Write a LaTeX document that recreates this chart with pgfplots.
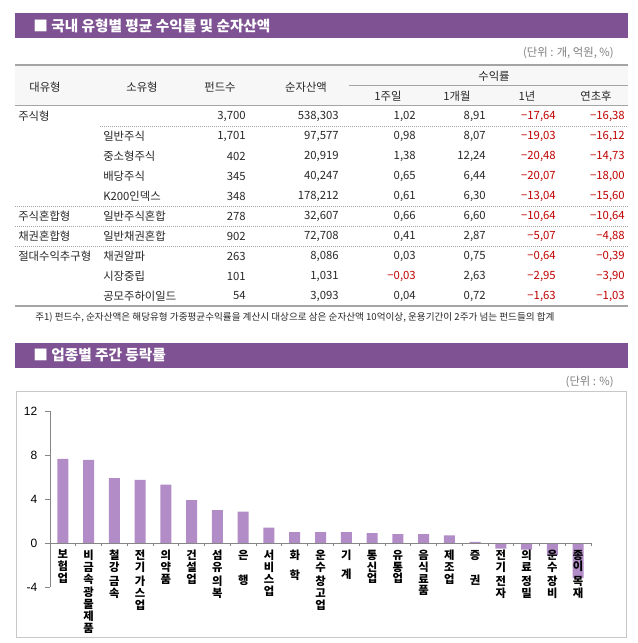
\documentclass[border=0pt]{standalone}
\usepackage{pgfplots}
\pgfplotsset{compat=1.18}
\usepackage{fontspec}
\setmainfont{Noto Sans CJK KR}
\newfontfamily\arial{Liberation Sans}
\definecolor{banner}{RGB}{127,82,147}
\definecolor{barc}{RGB}{177,140,199}
\definecolor{numred}{RGB}{192,0,0}
\definecolor{linec}{RGB}{165,165,165}
\definecolor{tcol}{RGB}{40,40,40}
\definecolor{axgray}{RGB}{134,134,134}
\definecolor{boxc}{RGB}{200,200,200}
\newcommand\tf{\fontsize{8.5}{10}\selectfont}
\newcommand\negv[1]{\textcolor{numred}{−#1}}
\newcommand\row[9]{%
 \node[L] at (18,#1) {#2};
 \node[L] at (103,#1) {#3};
 \node[R] at (246,#1) {#4};
 \node[R] at (339,#1) {#5};
 \node[R] at (416,#1) {#6};
 \node[R] at (486,#1) {#7};
 \node[R] at (556,#1) {#8};
 \node[R] at (625,#1) {#9};}
\begin{document}
\begin{tikzpicture}
\useasboundingbox (0,0) rectangle (477.75pt,-482.25pt);
\begin{scope}[x=0.75pt,y=-0.75pt]
\tikzset{L/.style={anchor=west,font=\tf,text=tcol,inner sep=0pt},
         R/.style={anchor=east,font=\tf,text=tcol,inner sep=0pt},
         C/.style={anchor=center,font=\tf,text=tcol,inner sep=0pt}}
\fill[white] (0,0) rectangle (637,643);
% banner 1
\fill[banner] (15,13) rectangle (628,38);
\node[anchor=west,text=white,inner sep=0pt,font=\fontsize{11}{13}\selectfont\bfseries] at (33,25.5) {■ 국내 유형별 평균 수익률 및 순자산액};
\node[anchor=east,text=gray,inner sep=0pt,font=\fontsize{8.5}{10}\selectfont] at (614,53) {(단위 : 개, 억원, \%)};
% table header
\fill[gray!6] (15,65) rectangle (628,105.5);
\draw[linec,line width=0.9pt] (15,65)--(628,65);
\draw[linec,line width=0.6pt] (349,85)--(628,85);
\draw[linec,line width=0.9pt] (15,105.5)--(628,105.5);
\node[C] at (45,87) {대유형};
\node[C] at (142,87) {소유형};
\node[C] at (220,87) {펀드수};
\node[C] at (306,87) {순자산액};
\node[C] at (494,76) {수익률};
\node[C] at (388,96) {1주일};
\node[C] at (457,96) {1개월};
\node[C] at (527,96) {1년};
\node[C] at (596,96) {연초후};
% rows
\row{116}{주식형}{}{3,700}{538,303}{1,02}{8,91}{\negv{17,64}}{\negv{16,38}}
\row{136}{}{일반주식}{1,701}{97,577}{0,98}{8,07}{\negv{19,03}}{\negv{16,12}}
\row{156}{}{중소형주식}{402}{20,919}{1,38}{12,24}{\negv{20,48}}{\negv{14,73}}
\row{176}{}{배당주식}{345}{40,247}{0,65}{6,44}{\negv{20,07}}{\negv{18,00}}
\row{196}{}{K200인덱스}{348}{178,212}{0,61}{6,30}{\negv{13,04}}{\negv{15,60}}
\row{216}{주식혼합형}{일반주식혼합}{278}{32,607}{0,66}{6,60}{\negv{10,64}}{\negv{10,64}}
\row{236}{채권혼합형}{일반채권혼합}{902}{72,708}{0,41}{2,87}{\negv{5,07}}{\negv{4,88}}
\row{256}{절대수익추구형}{채권알파}{263}{8,086}{0,03}{0,75}{\negv{0,64}}{\negv{0,39}}
\row{276}{}{시장중립}{101}{1,031}{\negv{0,03}}{2,63}{\negv{2,95}}{\negv{3,90}}
\row{296}{}{공모주하이일드}{54}{3,093}{0,04}{0,72}{\negv{1,63}}{\negv{1,03}}
\draw[linec,line width=0.6pt,dash pattern=on 0.75pt off 0.75pt] (100,126)--(628,126);
\draw[linec,line width=0.6pt,dash pattern=on 0.75pt off 0.75pt] (15,206)--(628,206);
\draw[linec,line width=0.6pt,dash pattern=on 0.75pt off 0.75pt] (15,226)--(628,226);
\draw[linec,line width=0.6pt,dash pattern=on 0.75pt off 0.75pt] (15,246)--(628,246);
\draw[linec,line width=0.9pt] (15,306)--(628,306);
\node[anchor=west,text=tcol,inner sep=0pt,font=\fontsize{7.2}{8}\selectfont] at (35,317) {주1) 펀드수, 순자산액은 해당유형 가중평균수익률을 계산시 대상으로 삼은 순자산액 10억이상, 운용기간이 2주가 넘는 펀드들의 합계};
% banner 2
\fill[banner] (15,343) rectangle (628,368);
\node[anchor=west,text=white,inner sep=0pt,font=\fontsize{11}{13}\selectfont\bfseries] at (33,355.5) {■ 업종별 주간 등락률};
\node[anchor=east,text=gray,inner sep=0pt,font=\fontsize{8.5}{10}\selectfont] at (614,382) {(단위 : \%)};
\draw[boxc,line width=0.75pt] (16,391) rectangle (626,637);
\end{scope}
\begin{axis}[
 at={(37.5pt,-440.25pt)}, anchor=south west,
 scale only axis, width=405.75pt, height=132pt,
 xmin=-0.5, xmax=20.5, ymin=-4, ymax=12,
 axis y line=left, axis x line=middle,
 axis line style={-, draw=axgray, line width=0.6pt},
 hide obscured x ticks=false, hide obscured y ticks=false,
 ytick={-4,0,4,8,12},
 yticklabel style={font=\arial\fontsize{9}{10}\selectfont, text=black, xshift=-2pt},
 /pgf/number format/assume math mode=true,
 y tick style={draw=axgray, line width=0.6pt},
 major tick length=4pt,
 tick align=outside,
 xtick={0,...,20},
 xticklabels={{보\\험\\업},{비\\금\\속\\[1pt]광\\물\\제\\품},{철\\강\\[2pt]금\\속},{전\\기\\[2pt]가\\스\\업},{의\\약\\품},{건\\설\\업},{섬\\유\\[2pt]의\\복},{은\\[10pt]행},{서\\비\\스\\업},{화\\[6pt]학},{운\\수\\[2pt]창\\고\\업},{기\\[5pt]계},{통\\신\\업},{유\\통\\업},{음\\식\\료\\품},{제\\조\\업},{증\\[10pt]권},{전\\기\\[2pt]전\\자},{의\\료\\[2pt]정\\밀},{운\\수\\[2pt]장\\비},{종\\이\\[2pt]목\\재}},
 major x tick style={draw=none},
 minor xtick={-0.5,0.5,...,20.5},
 minor x tick style={draw=axgray, line width=0.6pt},
 minor tick length=2.5pt,
 xticklabel style={font=\fontsize{8.5}{8.9}\selectfont\bfseries, align=center, anchor=north, text=black, inner sep=1pt},
 axis on top,
 clip=false,
]
\addplot[ybar, bar width=8.25pt, fill=barc, draw=none] coordinates {
(0,7.65) (1,7.55) (2,5.9) (3,5.75) (4,5.3) (5,3.9) (6,3.0) (7,2.85) (8,1.4) (9,1.0) (10,1.0) (11,1.0) (12,0.9) (13,0.8) (14,0.8) (15,0.7) (16,0.1) (17,-0.5) (18,-0.6) (19,-1.1) (20,-3.2)};
\end{axis}
\end{tikzpicture}
\end{document}
